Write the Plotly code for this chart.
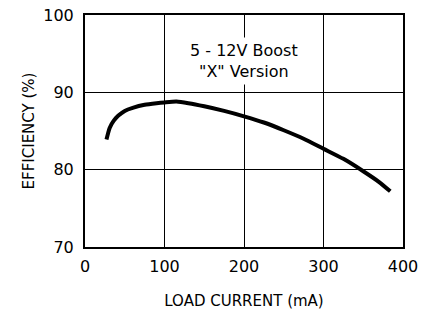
import plotly.graph_objects as go

load_current_ma = [27, 31, 36, 42, 50, 60, 75, 90, 100, 115, 130, 150, 175, 200, 225, 250, 275, 300, 325, 350, 370, 384]
efficiency_pct = [83.9, 85.4, 86.3, 87.0, 87.6, 88.0, 88.4, 88.6, 88.7, 88.8, 88.6, 88.2, 87.6, 86.9, 86.1, 85.1, 84.0, 82.7, 81.4, 79.8, 78.4, 77.2]

x_ticks = [0, 100, 200, 300, 400]
y_ticks = [70, 80, 90, 100]
annotation_lines = ["5 - 12V Boost", "\"X\" Version"]

FONT = "DejaVu Sans"

fig = go.Figure()
fig.add_trace(go.Scatter(
    x=load_current_ma, y=efficiency_pct, mode="lines",
    line=dict(color="black", width=4, shape="spline", smoothing=0.6),
    showlegend=False, hoverinfo="skip",
))

fig.add_annotation(
    x=200, y=94.1, xref="x", yref="y",
    text="<br>".join(annotation_lines),
    showarrow=False, align="center",
    font=dict(family=FONT, size=16, color="black"),
    bgcolor="white", borderpad=3,
)

fig.update_layout(
    width=424, height=311,
    margin=dict(l=85, r=21, t=15, b=64),
    paper_bgcolor="white", plot_bgcolor="white",
    font=dict(family=FONT, size=15, color="black"),
)
fig.update_xaxes(
    range=[0, 400], tickvals=x_ticks, ticks="",
    showgrid=True, gridcolor="black", gridwidth=1,
    showline=True, linecolor="black", linewidth=2, mirror=True,
    zeroline=False, ticklabelstandoff=4, automargin=False,
    ticklabeloverflow="allow",
    tickfont=dict(family=FONT, size=16),
    title=dict(text="LOAD CURRENT (mA)", font=dict(family=FONT, size=15), standoff=20),
)
fig.update_yaxes(
    range=[70, 100], tickvals=y_ticks, ticks="",
    showgrid=True, gridcolor="black", gridwidth=1,
    showline=True, linecolor="black", linewidth=2, mirror=True,
    zeroline=False, ticklabelstandoff=6, automargin=False,
    ticklabeloverflow="allow",
    tickfont=dict(family=FONT, size=16),
    title=dict(text="EFFICIENCY (%)", font=dict(family=FONT, size=15), standoff=5),
)

# remove the browser's default 8px body margin so the figure sits at the page origin
fig.write_html(
    "out.html",
    config={"displayModeBar": False, "staticPlot": True},
    post_script="document.body.style.margin='0';",
)
